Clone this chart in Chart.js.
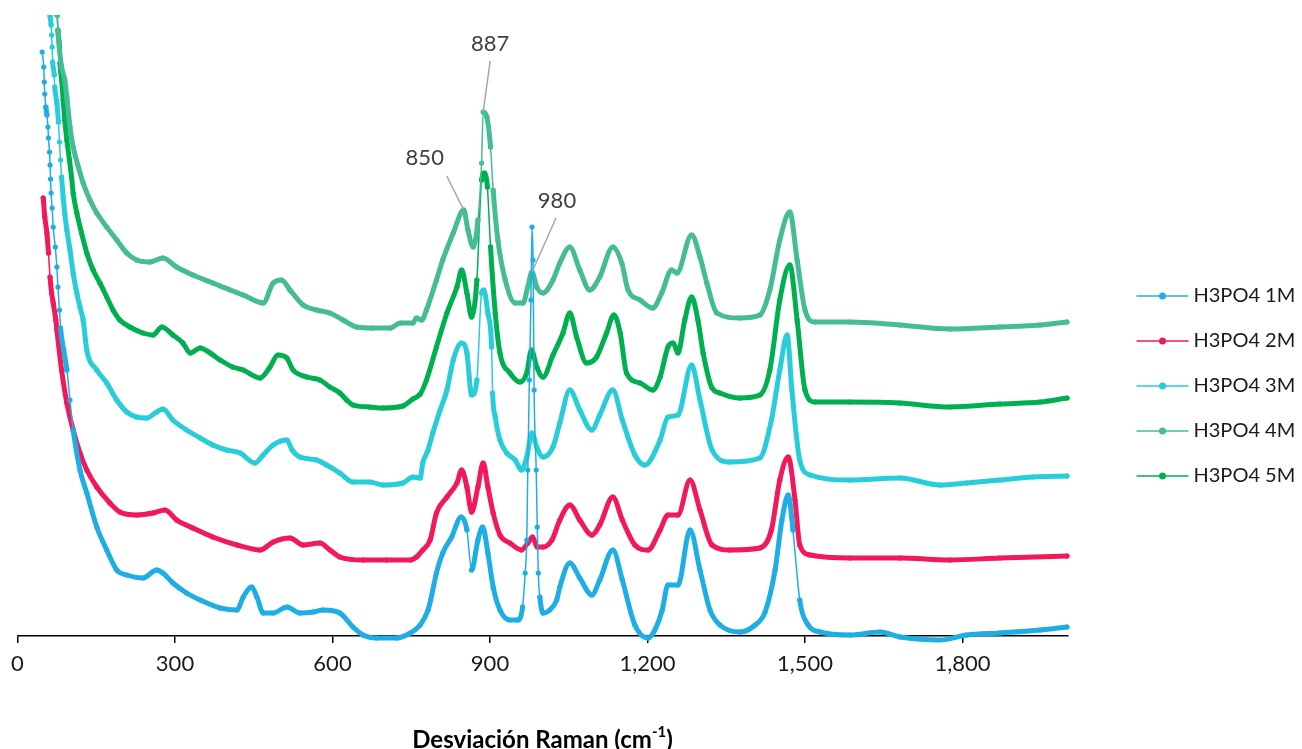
<!DOCTYPE html>
<html>
<head>
<meta charset="utf-8">
<script src="https://cdn.jsdelivr.net/npm/chart.js@4.4.1/dist/chart.umd.min.js"></script>
<style>
  html, body { margin: 0; padding: 0; background: #fff; }
  #wrap { width: 1302px; height: 749px; }
</style>
</head>
<body>
<div id="wrap"><canvas id="raman" width="1302" height="749"></canvas></div>
<script>
// Raman spectra of H3PO4 solutions: [shift (cm-1), intensity (a.u.)]
const h3po4_1M = [
  [47,5840],[50,5690],[51,5540],[52,5420],[54,5290],[56,5210],[58,5090],[59,4980],[61,4840],[62,4710],[63,4570],[64,4430],[66,4280],[68,4090],[72,3890],[75,3690],[77,3490],[80,3260],[82,3080],[88,2860],[94,2660],[100,2360],[106,2060],[119,1660],[132,1430],[151,1090],[170,860],[189,660],[208,610],[239,580],[265,660],[277,630],[296,530],[322,430],[348,360],[386,280],[418,260],[430,390],[446,490],[456,390],[468,230],[487,230],[513,290],[538,230],[563,240],[582,260],[614,230],[639,90],[658,10],[684,-20],[722,-20],[748,30],[767,110],[782,260],[787,360],[798,630],[810,830],[827,990],[845,1190],[856,1060],[865,660],[877,960],[886,1090],[896,830],[906,490],[919,260],[938,160],[953,160],[962,290],[967,630],[970,960],[972,1660],[975,2560],[978,3360],[980,4090],[982,3760],[984,2460],[988,1660],[990,1090],[992,630],[995,390],[1001,230],[1014,260],[1027,360],[1033,490],[1052,730],[1071,580],[1094,410],[1109,560],[1134,860],[1152,560],[1176,110],[1201,-20],[1214,60],[1228,260],[1239,510],[1258,510],[1281,1060],[1300,660],[1319,260],[1338,110],[1376,40],[1405,110],[1424,240],[1443,660],[1456,1160],[1468,1410],[1477,1060],[1490,360],[1506,110],[1529,40],[1586,10],[1643,40],[1681,-10],[1757,-40],[1808,10],[1871,30],[1948,60],[1999,90]
];
const h3po4_2M = [
  [49,4380],[52,4190],[56,4030],[59,3830],[62,3590],[65,3430],[68,3330],[73,3160],[75,3060],[84,2660],[94,2330],[106,2060],[119,1830],[132,1660],[151,1490],[176,1330],[195,1240],[227,1210],[258,1230],[281,1260],[303,1160],[334,1080],[372,990],[418,910],[462,860],[487,940],[519,980],[544,910],[576,930],[595,860],[614,790],[658,760],[703,760],[748,760],[760,790],[772,860],[786,960],[798,1230],[818,1390],[837,1530],[846,1660],[856,1490],[865,1240],[877,1490],[887,1730],[896,1490],[906,1230],[919,1010],[938,930],[960,860],[972,930],[981,990],[990,890],[1001,890],[1018,960],[1033,1160],[1052,1310],[1071,1160],[1094,1010],[1109,1110],[1134,1390],[1152,1160],[1176,910],[1201,860],[1224,1060],[1239,1210],[1258,1210],[1281,1560],[1300,1260],[1323,910],[1357,860],[1414,880],[1436,1060],[1452,1560],[1468,1790],[1481,1360],[1490,910],[1510,810],[1586,780],[1681,780],[1776,760],[1871,780],[1999,800]
];
const h3po4_3M = [
  [60,6310],[62,6200],[64,6110],[65,6010],[66,5890],[67,5740],[70,5610],[71,5490],[75,5330],[78,5140],[80,4940],[82,4760],[84,4590],[87,4390],[90,4230],[94,4060],[100,3860],[106,3630],[113,3430],[119,3290],[125,3160],[132,2860],[151,2660],[170,2530],[189,2360],[208,2240],[227,2190],[246,2180],[265,2240],[277,2270],[296,2160],[322,2060],[348,1980],[372,1910],[398,1860],[424,1830],[452,1730],[468,1810],[487,1910],[513,1960],[523,1860],[538,1790],[570,1760],[589,1710],[614,1630],[639,1540],[671,1540],[696,1510],[734,1530],[753,1590],[767,1580],[772,1730],[782,1860],[791,2030],[805,2260],[818,2460],[830,2760],[846,2930],[856,2830],[865,2410],[875,2560],[884,3430],[888,3460],[896,3230],[903,2890],[905,2430],[910,2190],[919,1960],[932,1830],[948,1760],[960,1660],[970,1790],[980,2030],[989,1890],[1001,1790],[1020,1890],[1033,2130],[1052,2460],[1071,2260],[1094,2060],[1109,2210],[1134,2460],[1152,2160],[1176,1810],[1195,1710],[1224,1960],[1239,2190],[1258,2210],[1284,2710],[1300,2360],[1323,1860],[1357,1740],[1414,1780],[1436,2160],[1452,2660],[1466,3010],[1475,2460],[1490,1760],[1510,1610],[1586,1560],[1681,1580],[1757,1510],[1808,1530],[1871,1560],[1934,1590],[1999,1600]
];
const h3po4_4M = [
  [73,6310],[75,6210],[77,6060],[80,5860],[84,5690],[90,5560],[94,5390],[100,5090],[106,4890],[116,4690],[125,4530],[138,4360],[151,4230],[170,4090],[189,3960],[208,3830],[227,3760],[252,3740],[277,3780],[303,3690],[334,3610],[372,3530],[405,3460],[430,3410],[468,3330],[487,3530],[503,3560],[519,3460],[544,3310],[570,3260],[595,3230],[620,3160],[646,3090],[677,3080],[710,3080],[729,3130],[753,3130],[760,3180],[770,3160],[779,3260],[798,3560],[810,3760],[830,4030],[850,4260],[858,4060],[868,3890],[877,4160],[884,4730],[887,5240],[894,5190],[901,4890],[906,4460],[915,3960],[929,3560],[948,3330],[963,3330],[972,3490],[980,3640],[989,3490],[1001,3430],[1020,3560],[1033,3730],[1052,3890],[1071,3660],[1090,3460],[1109,3590],[1134,3890],[1151,3730],[1163,3460],[1186,3360],[1210,3280],[1227,3430],[1246,3660],[1256,3630],[1284,4010],[1300,3790],[1313,3530],[1332,3230],[1376,3180],[1414,3210],[1433,3460],[1452,3960],[1471,4240],[1485,3760],[1500,3260],[1519,3140],[1586,3140],[1681,3110],[1776,3070],[1871,3090],[1948,3110],[1999,3140]
];
const h3po4_5M = [
  [74,6310],[76,6210],[77,6060],[80,5890],[81,5730],[84,5560],[87,5360],[90,5160],[94,4960],[99,4760],[103,4590],[106,4430],[113,4230],[122,4030],[132,3830],[144,3660],[157,3530],[170,3390],[182,3260],[195,3160],[214,3090],[239,3030],[258,3010],[275,3090],[296,3010],[315,2930],[329,2830],[348,2880],[367,2830],[386,2760],[410,2690],[430,2660],[462,2580],[481,2690],[496,2810],[513,2780],[525,2660],[551,2590],[576,2560],[595,2490],[614,2430],[627,2360],[639,2310],[671,2290],[696,2280],[734,2300],[753,2370],[767,2420],[779,2560],[798,2890],[818,3230],[837,3490],[846,3660],[856,3430],[865,3190],[875,3560],[884,4560],[889,4630],[895,4490],[901,3890],[910,3230],[919,2830],[938,2630],[957,2540],[970,2630],[979,2860],[989,2690],[1001,2590],[1020,2810],[1039,3030],[1052,3230],[1065,2990],[1084,2730],[1103,2790],[1122,3030],[1136,3210],[1148,3030],[1160,2630],[1186,2530],[1210,2460],[1224,2590],[1239,2890],[1249,2930],[1258,2830],[1271,3160],[1284,3390],[1296,3160],[1306,2830],[1322,2490],[1338,2430],[1376,2380],[1414,2410],[1433,2660],[1452,3360],[1471,3710],[1485,3160],[1500,2460],[1519,2340],[1586,2340],[1681,2330],[1776,2290],[1871,2320],[1948,2340],[1999,2380]
];

const seriesNames = ['H3PO4 1M', 'H3PO4 2M', 'H3PO4 3M', 'H3PO4 4M', 'H3PO4 5M'];
const seriesData = [h3po4_1M, h3po4_2M, h3po4_3M, h3po4_4M, h3po4_5M];
const seriesColors = ['#1faee4', '#f2195b', '#29cdd9', '#45bc95', '#00b050'];
// slope (dy/dx in pixels) above which a run is drawn thin
const steepSlope = [8, 14, 14, 14, 14];

const xTicks = [0, 300, 600, 900, 1200, 1500, 1800];

// peaks marked on the 4M spectrum
const peakShifts = [850, 887, 980];
const peakLabels = ['850', '887', '980'];
const peakSeries = 3;
// pixel offsets from the peak: leader start (lx, ly) and text centre (tx, ty)
const peakOffsets = [
  { lx: -17, ly: -34, tx: -39, ty: -52 },
  { lx: 7, ly: -51, tx: 7, ty: -68 },
  { lx: 24, ly: -54, tx: 25, ty: -71 }
];

const FONT = 'Lato, "Open Sans", sans-serif';

const peakLabelPlugin = {
  id: 'peakLabels',
  afterDatasetsDraw(chart) {
    const { ctx, scales: { x, y } } = chart;
    const pts = chart.data.datasets[peakSeries].data;
    ctx.save();
    ctx.font = '22px ' + FONT;
    ctx.textAlign = 'center';
    ctx.textBaseline = 'middle';
    peakShifts.forEach((shift, i) => {
      const p = pts.find(d => d.x === shift);
      const px = x.getPixelForValue(p.x);
      const py = y.getPixelForValue(p.y);
      const o = peakOffsets[i];
      ctx.strokeStyle = '#a6a6a6';
      ctx.lineWidth = 1.5;
      ctx.beginPath();
      ctx.moveTo(px + o.lx, py + o.ly);
      ctx.lineTo(px, py);
      ctx.stroke();
      ctx.fillStyle = '#404040';
      ctx.fillText(peakLabels[i], px + o.tx, py + o.ty);
    });
    ctx.restore();
  }
};

// legend on the right: short line with a marker, then the name
const sideLegendPlugin = {
  id: 'sideLegend',
  afterDraw(chart) {
    const ctx = chart.ctx;
    const x0 = chart.chartArea.right + 69;
    ctx.save();
    ctx.font = '20px ' + FONT;
    ctx.textBaseline = 'middle';
    chart.data.datasets.forEach((ds, i) => {
      const yy = 296 + i * 45;
      ctx.strokeStyle = ds.borderColor;
      ctx.lineWidth = 1.5;
      ctx.beginPath();
      ctx.moveTo(x0, yy);
      ctx.lineTo(x0 + 52, yy);
      ctx.stroke();
      ctx.fillStyle = ds.borderColor;
      ctx.beginPath();
      ctx.arc(x0 + 26, yy, 3.5, 0, Math.PI * 2);
      ctx.fill();
      ctx.fillStyle = '#1a1a1a';
      ctx.fillText(ds.label, x0 + 57, yy);
    });
    ctx.restore();
  }
};

// x axis title with superscript
const axisTitlePlugin = {
  id: 'axisTitle',
  afterDraw(chart) {
    const ctx = chart.ctx;
    const cx = (chart.chartArea.left + chart.chartArea.right) / 2;
    const yy = 740;
    const main = 'Desviación Raman (cm';
    const sup = '-1';
    const tail = ')';
    ctx.save();
    ctx.textBaseline = 'middle';
    ctx.fillStyle = '#000';
    ctx.font = 'bold 24px ' + FONT;
    const wMain = ctx.measureText(main).width;
    const wTail = ctx.measureText(tail).width;
    ctx.font = 'bold 15px ' + FONT;
    const wSup = ctx.measureText(sup).width;
    let x = cx - (wMain + wSup + wTail) / 2;
    ctx.font = 'bold 24px ' + FONT;
    ctx.fillText(main, x, yy);
    x += wMain;
    ctx.font = 'bold 15px ' + FONT;
    ctx.fillText(sup, x, yy - 8);
    x += wSup;
    ctx.font = 'bold 24px ' + FONT;
    ctx.fillText(tail, x, yy);
    ctx.restore();
  }
};

const datasets = seriesData.map((series, i) => ({
  label: seriesNames[i],
  data: series.map(([x, y]) => ({ x, y })),
  borderColor: seriesColors[i],
  backgroundColor: seriesColors[i],
  pointBackgroundColor: seriesColors[i],
  pointBorderWidth: 0,
  pointRadius: 2.6,
  pointHoverRadius: 2.6,
  borderWidth: 5,
  borderJoinStyle: 'round',
  borderCapStyle: 'round',
  cubicInterpolationMode: 'monotone',
  clip: { left: 10, top: 0, right: 10, bottom: 10 },
  // very steep runs are drawn thin so the markers stand out
  segment: {
    borderWidth: ctx => {
      const dx = Math.abs(ctx.p1.x - ctx.p0.x);
      const dy = Math.abs(ctx.p1.y - ctx.p0.y);
      return dy > steepSlope[i] * Math.max(dx, 0.01) ? 1.5 : 5;
    }
  }
}));

new Chart(document.getElementById('raman'), {
  type: 'line',
  data: { datasets },
  options: {
    responsive: false,
    devicePixelRatio: 1,
    animation: false,
    events: [],
    layout: { padding: { left: 17.5, right: 234.5, top: 15, bottom: 0 } },
    scales: {
      x: {
        type: 'linear',
        min: 0,
        max: 2000,
        afterBuildTicks: scale => { scale.ticks = xTicks.map(v => ({ value: v })); },
        afterFit: scale => { scale.height = 113; },
        border: { display: true, color: '#000', width: 1.5 },
        grid: { display: true, drawOnChartArea: false, drawTicks: true, tickLength: 7, color: '#000', lineWidth: 1.5 },
        ticks: {
          padding: 8,
          color: '#1a1a1a',
          font: { family: FONT, size: 22 },
          maxRotation: 0,
          callback: v => v.toLocaleString('en-US')
        }
      },
      y: {
        display: false,
        min: 0,
        max: 6210
      }
    },
    plugins: {
      legend: { display: false },
      tooltip: { enabled: false }
    }
  },
  plugins: [peakLabelPlugin, sideLegendPlugin, axisTitlePlugin]
});
</script>
</body>
</html>
